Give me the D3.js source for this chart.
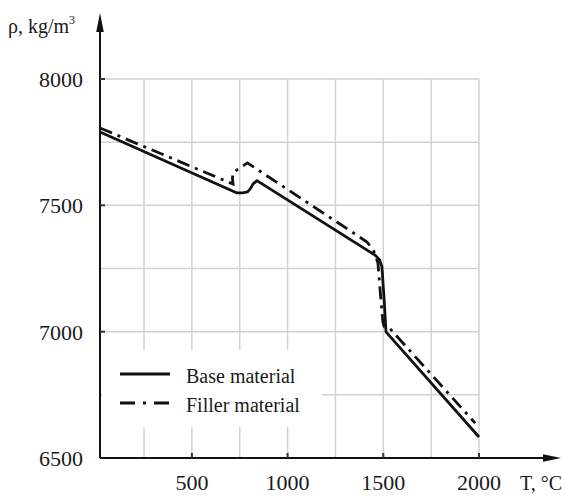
<!DOCTYPE html>
<meta charset="utf-8">
<head>
    <meta charset="utf-8">
    <title>Density vs temperature</title>
    <script type="text/javascript" src="https://d3js.org/d3.v7.min.js"></script>
</head>

<style type="text/css">
    body {
        margin: 0;
        background-color: #ffffff;
    }

    svg {
        display: block;
    }

    text {
        font-family: "Liberation Serif", Tinos, "Times New Roman", Times, "Noto Serif", "DejaVu Serif", FreeSerif, serif;
    }

    .grid line {
        stroke: #d2d2d2;
        stroke-width: 1.5;
    }

    .tick-label {
        font-size: 22px;
        fill: #1a1a1a;
    }
</style>

<body>
    <div id="chart"></div>

    <script>
        // data (T in °C, rho in kg/m3)
        const baseT   = [20, 736, 765, 790, 805, 820, 840, 1457, 1480, 1493, 1505, 1514, 2000];
        const baseRho = [7790, 7549, 7549, 7553, 7565, 7585, 7598, 7303, 7285, 7256, 7120, 6999, 6583];

        const fillerT   = [20, 715, 712, 716, 790, 1415, 1450, 1472, 1485, 1498, 1505, 1535, 1980];
        const fillerRho = [7806, 7584, 7608, 7630, 7668, 7355, 7320, 7272, 7150, 7037, 7020, 7012, 6638];

        // ticks and grid
        const xTicks = [500, 1000, 1500, 2000];
        const yTicks = [6500, 7000, 7500, 8000];
        const xGrid = [250, 500, 750, 1000, 1250, 1500, 1750, 2000];
        const yGrid = [6750, 7000, 7250, 7500, 7750, 8000];

        const seriesNames = ["Base material", "Filler material"];

        // size of page
        const width = 565,
              height = 496;

        const svg = d3.select("#chart")
            .append("svg")
            .attr("width", width)
            .attr("height", height);

        // scales
        const x = d3.scaleLinear()
            .domain([20, 2000])
            .range([100, 479]);

        const y = d3.scaleLinear()
            .domain([6500, 8000])
            .range([458, 79]);

        // grid lines
        const grid = svg.append("g").attr("class", "grid");

        grid.selectAll("line.v")
            .data(xGrid)
            .join("line")
            .attr("class", "v")
            .attr("x1", d => x(d))
            .attr("x2", d => x(d))
            .attr("y1", y(8000))
            .attr("y2", y(6500));

        grid.selectAll("line.h")
            .data(yGrid)
            .join("line")
            .attr("class", "h")
            .attr("x1", x(20))
            .attr("x2", x(2000))
            .attr("y1", d => y(d))
            .attr("y2", d => y(d));

        // legend box covers the grid
        svg.append("rect")
            .attr("x", 102)
            .attr("y", 350)
            .attr("width", 220)
            .attr("height", 77)
            .attr("fill", "#ffffff");

        // curves
        const line = d3.line()
            .x(d => x(d[0]))
            .y(d => y(d[1]));

        const baseData = baseT.map((t, i) => [t, baseRho[i]]);
        const fillerData = fillerT.map((t, i) => [t, fillerRho[i]]);

        svg.append("path")
            .datum(fillerData)
            .attr("d", line)
            .attr("fill", "none")
            .attr("stroke", "#111")
            .attr("stroke-width", 2.8)
            .attr("stroke-dasharray", "13,6,3,6");

        svg.append("path")
            .datum(baseData)
            .attr("d", line)
            .attr("fill", "none")
            .attr("stroke", "#111")
            .attr("stroke-width", 2.8)
            .attr("stroke-linejoin", "round");

        // axes with arrows
        const x0 = x(20), y0 = y(6500);

        svg.append("line")
            .attr("x1", x0).attr("x2", x0)
            .attr("y1", y0).attr("y2", 28)
            .attr("stroke", "#111").attr("stroke-width", 2);
        svg.append("path")
            .attr("d", `M${x0},13 L${x0 - 3.8},32 L${x0 + 3.8},32 Z`)
            .attr("fill", "#111");

        svg.append("line")
            .attr("x1", x0).attr("x2", 547)
            .attr("y1", y0).attr("y2", y0)
            .attr("stroke", "#111").attr("stroke-width", 2);
        svg.append("path")
            .attr("d", `M561,${y0} L543,${y0 - 3.8} L543,${y0 + 3.8} Z`)
            .attr("fill", "#111");

        // tick marks
        svg.selectAll("line.xt")
            .data(xTicks)
            .join("line")
            .attr("class", "xt")
            .attr("x1", d => x(d)).attr("x2", d => x(d))
            .attr("y1", y0).attr("y2", y0 - 5)
            .attr("stroke", "#333").attr("stroke-width", 2);

        svg.selectAll("line.yt")
            .data(yTicks.filter(d => d > 6500))
            .join("line")
            .attr("class", "yt")
            .attr("x1", x0).attr("x2", x0 + 5)
            .attr("y1", d => y(d)).attr("y2", d => y(d))
            .attr("stroke", "#333").attr("stroke-width", 2);

        // tick labels
        svg.selectAll("text.xl")
            .data(xTicks)
            .join("text")
            .attr("class", "xl tick-label")
            .attr("x", d => x(d))
            .attr("y", 490)
            .attr("text-anchor", "middle")
            .text(d => d);

        svg.selectAll("text.yl")
            .data(yTicks)
            .join("text")
            .attr("class", "yl tick-label")
            .attr("x", 83)
            .attr("y", d => y(d) + 8)
            .attr("text-anchor", "end")
            .text(d => d);

        // axis titles
        const yTitle = svg.append("text")
            .attr("x", 8)
            .attr("y", 33)
            .attr("font-size", 20)
            .attr("fill", "#1a1a1a")
            .text("ρ, kg/m");
        yTitle.append("tspan")
            .attr("font-size", 12)
            .attr("dy", -9)
            .text("3");

        svg.append("text")
            .attr("x", 520)
            .attr("y", 490)
            .attr("font-size", 20)
            .attr("fill", "#1a1a1a")
            .text("T, °C");

        // legend
        const legend = svg.append("g");
        const dashes = [null, "15,8,3,8"];

        seriesNames.forEach((name, i) => {
            const ly = 374 + i * 29;
            legend.append("line")
                .attr("x1", 120).attr("x2", 170)
                .attr("y1", ly).attr("y2", ly)
                .attr("stroke", "#111")
                .attr("stroke-width", 2.8)
                .attr("stroke-dasharray", dashes[i]);
            legend.append("text")
                .attr("x", 186)
                .attr("y", ly + 9)
                .attr("font-size", 20)
                .attr("fill", "#1a1a1a")
                .text(name);
        });
    </script>
</body>
</html>
